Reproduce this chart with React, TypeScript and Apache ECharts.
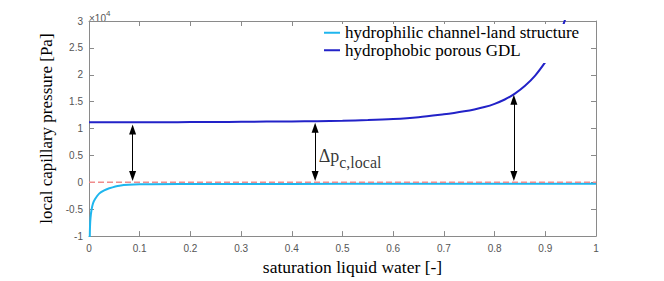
import React, { useEffect, useRef } from "react";
import * as echarts from "echarts";

// Hydrophobic porous GDL (saturation [-], capillary pressure [Pa])
const S_BLUE = [0, 0.05, 0.1, 0.15, 0.2, 0.25, 0.3, 0.35, 0.4, 0.45, 0.5, 0.55, 0.6, 0.65, 0.7, 0.72, 0.74, 0.76, 0.78, 0.8, 0.82, 0.84, 0.86, 0.88, 0.9, 0.91, 0.92, 0.93, 0.94, 0.95];
const P_BLUE = [11150, 11155, 11165, 11180, 11200, 11225, 11255, 11290, 11330, 11380, 11460, 11580, 11780, 12120, 12650, 12900, 13200, 13560, 14000, 14600, 15400, 16500, 17950, 19850, 22350, 23850, 25650, 27850, 30550, 33800];

// Hydrophilic channel-land structure
const S_CYAN = [0.0015, 0.002, 0.003, 0.005, 0.008, 0.012, 0.02, 0.03, 0.04, 0.06, 0.1, 0.2, 0.4, 0.6, 0.8, 1];
const P_CYAN = [-10500, -8200, -6600, -5100, -3900, -3100, -2100, -1500, -1100, -620, -380, -320, -290, -270, -260, -250];

// Zero reference line
const S_ZERO = [0, 1];
const P_ZERO = [0, 0];

// Δp arrows (line end points; arrowheads extend beyond them)
const ARROW_S = [0.086, 0.446, 0.838];
const ARROW_TOP = [9810, 10130, 15370];
const ARROW_BOTTOM = [1170, 1170, 1170];

// Annotation label anchor
const LABEL_POS = [0.453, 4400];

const SERIES_NAMES = ["hydrophilic channel-land structure", "hydrophobic porous GDL"];

const AXIS_COLOR = "#8a8a8a";
const LABEL_COLOR = "#555555";

export default function App() {
  const ref = useRef<HTMLDivElement>(null);
  useEffect(() => {
    if (!ref.current) return;
    const chart = echarts.init(ref.current, undefined, { renderer: "svg" });
    const zip = (xs: number[], ys: number[]) => xs.map((x, i) => [x, ys[i]]);
    const tickLabel = { color: LABEL_COLOR, fontFamily: "Liberation Sans", fontSize: 10 };
    const commonX = {
      type: "value" as const,
      min: 0,
      max: 1,
      interval: 0.1,
      splitLine: { show: false },
      axisLine: { show: true, onZero: false, lineStyle: { color: AXIS_COLOR, width: 1 } },
      axisTick: { show: true, inside: true, length: 5, lineStyle: { color: AXIS_COLOR } },
    };
    const commonY = {
      type: "value" as const,
      min: -10000,
      max: 30000,
      interval: 5000,
      splitLine: { show: false },
      axisLine: { show: true, onZero: false, lineStyle: { color: AXIS_COLOR, width: 1 } },
      axisTick: { show: true, inside: true, length: 5, lineStyle: { color: AXIS_COLOR } },
    };
    chart.setOption({
      animation: false,
      backgroundColor: "#ffffff",
      grid: { left: 89, right: 68, top: 21, bottom: 44, containLabel: false },
      legend: {
        data: SERIES_NAMES,
        orient: "vertical",
        left: 320,
        top: 24,
        padding: [0, 6, 4, 4],
        backgroundColor: "#ffffff",
        itemGap: 0,
        itemWidth: 16,
        itemHeight: 2,
        icon: "rect",
        textStyle: { fontFamily: "Liberation Serif", fontSize: 17, color: "#000", lineHeight: 17.5 },
      },
      xAxis: [
        {
          ...commonX,
          position: "bottom",
          axisLabel: {
            ...tickLabel,
            margin: 7,
            formatter: (v: number) => String(Math.round(v * 10) / 10),
          },
          name: "saturation liquid water [-]",
          nameLocation: "middle",
          nameGap: 14,
          nameTextStyle: { fontFamily: "Liberation Serif", fontSize: 17.5, color: "#000", padding: [0, 0, 0, 20] },
        },
        { ...commonX, position: "top", axisLabel: { show: false } },
      ],
      yAxis: [
        {
          ...commonY,
          position: "left",
          axisLabel: {
            ...tickLabel,
            margin: 6,
            formatter: (v: number) => String(Math.round((v / 10000) * 10) / 10),
          },
          name: "local capillary pressure [Pa]",
          nameLocation: "middle",
          nameGap: 29,
          nameTextStyle: { fontFamily: "Liberation Serif", fontSize: 17, color: "#000" },
        },
        { ...commonY, position: "right", axisLabel: { show: false } },
      ],
      graphic: [
        {
          type: "text",
          left: 89,
          top: 9,
          style: {
            text: "{a|×10}{b|4}",
            rich: {
              a: { fontFamily: "Liberation Sans", fontSize: 10, fill: LABEL_COLOR, verticalAlign: "bottom" },
              b: { fontFamily: "Liberation Sans", fontSize: 8, fill: LABEL_COLOR, verticalAlign: "bottom", padding: [0, 0, 6, 0] },
            },
          },
        },
      ],
      series: [
        {
          name: SERIES_NAMES[0],
          type: "line",
          data: zip(S_CYAN, P_CYAN),
          showSymbol: false,
          smooth: 0.3,
          lineStyle: { color: "#1fb6ee", width: 2 },
          itemStyle: { color: "#1fb6ee" },
          clip: true,
          z: 2,
        },
        {
          name: SERIES_NAMES[1],
          type: "line",
          data: zip(S_BLUE, P_BLUE),
          showSymbol: false,
          smooth: 0.3,
          lineStyle: { color: "#2222c8", width: 2 },
          itemStyle: { color: "#2222c8" },
          clip: true,
          z: 2,
        },
        {
          name: "zero",
          type: "line",
          data: zip(S_ZERO, P_ZERO),
          showSymbol: false,
          lineStyle: { color: "#f08c8c", width: 1.5, type: [6, 3] },
          z: 3,
          silent: true,
        },
        {
          name: "arrows",
          type: "scatter",
          data: zip(ARROW_S, ARROW_TOP),
          symbolSize: 0,
          silent: true,
          markLine: {
            silent: true,
            symbol: ["triangle", "triangle"],
            symbolSize: [7, 10],
            label: { show: false },
            lineStyle: { color: "#000", width: 1, type: "solid" },
            data: ARROW_S.map((s, i) => [
              { coord: [s, ARROW_BOTTOM[i]] },
              { coord: [s, ARROW_TOP[i]] },
            ]),
          },
          z: 4,
        },
        {
          name: "label",
          type: "scatter",
          data: [LABEL_POS],
          symbolSize: 0,
          silent: true,
          label: {
            show: true,
            position: "right",
            distance: 0,
            formatter: "{a|Δp}{b|c,local}",
            rich: {
              a: { fontFamily: "Liberation Serif", fontSize: 18, color: "#000", verticalAlign: "bottom", padding: [0, 0, 5, 0] },
              b: { fontFamily: "Liberation Serif", fontSize: 16, color: "#000", verticalAlign: "bottom" },
            },
          },
          z: 4,
        },
      ],
    });
    return () => chart.dispose();
  }, []);
  return <div ref={ref} style={{ position: "absolute", left: 0, top: 0, width: 664, height: 281 }} />;
}
